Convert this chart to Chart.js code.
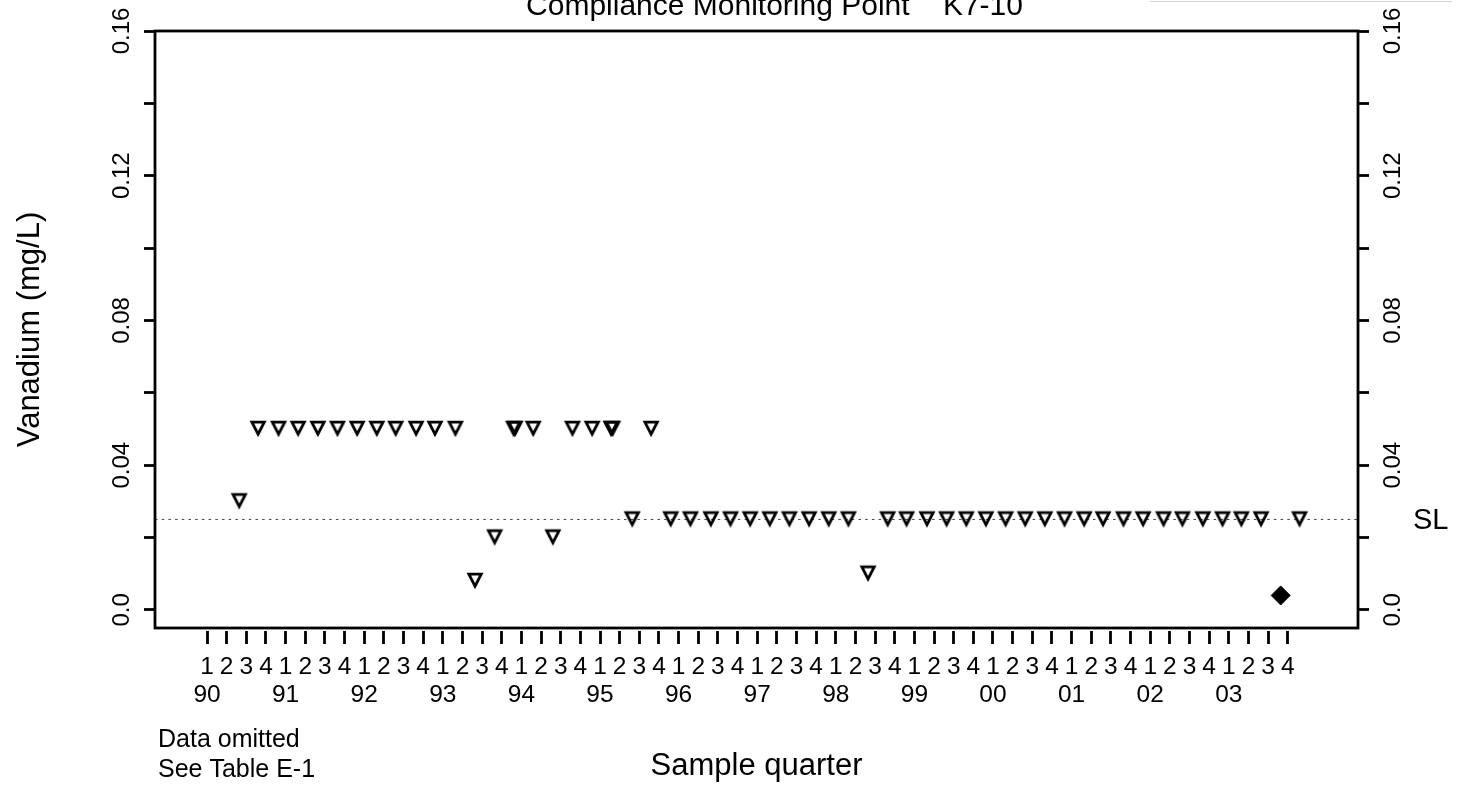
<!DOCTYPE html>
<html>
<head>
<meta charset="utf-8">
<title>Vanadium — K7-10</title>
<script src="https://cdn.jsdelivr.net/npm/chart.js@4.4.1/dist/chart.umd.min.js"></script>
<style>
  html, body { margin: 0; padding: 0; background: #fff; }
  canvas { display: block; }
</style>
</head>
<body>
<canvas id="chart" width="1465" height="786" style="width:1465px;height:786px"></canvas>
<script>
// ---- Axis labels ----
const firstYear = 1990;
const yearLabels = ['90', '91', '92', '93', '94', '95', '96', '97', '98', '99', '00', '01', '02', '03'];
const quarterLabels = ['1', '2', '3', '4'];
const yTickValues = [0, 0.02, 0.04, 0.06, 0.08, 0.10, 0.12, 0.14, 0.16];
const yTickLabels = ['0.0', '', '0.04', '', '0.08', '', '0.12', '', '0.16'];

// ---- Results (mg/L) by sample date in decimal years ----
// Non-detects, plotted at the reporting limit
const nonDetectDates = [
  1990.41, 1990.65, 1990.91, 1991.16, 1991.41, 1991.66, 1991.91, 1992.16, 1992.40, 1992.66,
  1992.90, 1993.16, 1993.41, 1993.66, 1993.90, 1993.92, 1994.15, 1994.40, 1994.65, 1994.90,
  1995.14, 1995.16, 1995.41, 1995.65, 1995.90, 1996.15, 1996.41, 1996.66, 1996.91, 1997.16,
  1997.41, 1997.66, 1997.91, 1998.16, 1998.41, 1998.66, 1998.90, 1999.16, 1999.41, 1999.66,
  1999.91, 2000.16, 2000.41, 2000.66, 2000.91, 2001.16, 2001.40, 2001.66, 2001.91, 2002.17,
  2002.41, 2002.67, 2002.92, 2003.16, 2003.41, 2003.90
];
const nonDetectValues = [
  0.03, 0.05, 0.05, 0.05, 0.05, 0.05, 0.05, 0.05, 0.05, 0.05,
  0.05, 0.05, 0.008, 0.02, 0.05, 0.05, 0.05, 0.02, 0.05, 0.05,
  0.05, 0.05, 0.025, 0.05, 0.025, 0.025, 0.025, 0.025, 0.025, 0.025,
  0.025, 0.025, 0.025, 0.025, 0.01, 0.025, 0.025, 0.025, 0.025, 0.025,
  0.025, 0.025, 0.025, 0.025, 0.025, 0.025, 0.025, 0.025, 0.025, 0.025,
  0.025, 0.025, 0.025, 0.025, 0.025, 0.025
];
// Detected results
const detectDates = [2003.66];
const detectValues = [0.004];
// Screening level
const screeningLevel = 0.025;

const chartTitle = 'Compliance Monitoring Point    K7-10';
const notes = ['Data omitted', 'See Table E-1'];

// ---- Derived tick tables ----
const xTickValues = [];
const xTickLabels = [];
yearLabels.forEach((yr, i) => {
  quarterLabels.forEach((q, j) => {
    xTickValues.push(firstYear + i + j / 4);
    xTickLabels.push(j === 0 ? [q, yr] : q);
  });
});

const X_MIN = 1989.3384, X_MAX = 2004.6438;
const Y_MIN = -0.005, Y_MAX = 0.16;
const FONT = '"Liberation Sans", Arial, Helvetica, sans-serif';

Chart.defaults.font.family = FONT;
Chart.defaults.color = '#000';

const toPoints = (xs, ys) => xs.map((x, i) => ({ x, y: ys[i] }));

// Open down-pointing triangle marker with a heavy outline (about 17 x 16 px overall)
function makeDownTriangle() {
  const c = document.createElement('canvas');
  c.width = 20; c.height = 20;
  const g = c.getContext('2d');
  const cx = 10, top = 3.175, halfW = 6.2, h = 12;
  g.strokeStyle = '#000';
  g.lineWidth = 2.8;
  g.lineJoin = 'miter';
  g.miterLimit = 10;
  g.beginPath();
  g.moveTo(cx - halfW, top);
  g.lineTo(cx + halfW, top);
  g.lineTo(cx, top + h);
  g.closePath();
  g.stroke();
  return c;
}
const downTriangle = makeDownTriangle();

// Frame around the plot region, plus the free-standing text
const decorations = {
  id: 'decorations',
  afterDatasetsDraw(chart) {
    const { ctx, chartArea: a } = chart;
    ctx.save();
    ctx.strokeStyle = '#000';
    ctx.lineWidth = 2.8;
    ctx.strokeRect(a.left, a.top, a.right - a.left, a.bottom - a.top);
    ctx.restore();
  },
  afterDraw(chart) {
    const { ctx, chartArea: a, scales } = chart;
    ctx.save();
    ctx.fillStyle = '#000';
    // title
    ctx.font = '30px ' + FONT;
    ctx.textAlign = 'center';
    ctx.textBaseline = 'alphabetic';
    ctx.fillText(chartTitle, (a.left + a.right) / 2 + 18, 15);
    // SL label beside the right axis
    ctx.font = '29px ' + FONT;
    ctx.textAlign = 'left';
    ctx.textBaseline = 'middle';
    ctx.fillText('SL', 1413, scales.y.getPixelForValue(screeningLevel) + 2);
    // notes under the axis
    ctx.font = '25px ' + FONT;
    ctx.textBaseline = 'middle';
    ctx.fillText(notes[0], 158, 740);
    ctx.fillText(notes[1], 158, 770);
    // faint rule at the top right
    ctx.strokeStyle = '#d4d4d4';
    ctx.lineWidth = 1;
    ctx.beginPath();
    ctx.moveTo(1150, 1.5);
    ctx.lineTo(1452, 1.5);
    ctx.stroke();
    ctx.restore();
  }
};

const yAxis = (position, width, pad, withTitle) => ({
  type: 'linear',
  position,
  min: Y_MIN,
  max: Y_MAX,
  border: { display: false },
  grid: { drawOnChartArea: false, drawTicks: true, tickLength: 11, tickWidth: 2.8, tickColor: '#000' },
  ticks: {
    minRotation: 90, maxRotation: 90, crossAlign: 'center', padding: pad,
    font: { size: 24 }, color: '#000',
    callback: (v, i) => yTickLabels[i]
  },
  afterBuildTicks: s => { s.ticks = yTickValues.map(v => ({ value: v })); },
  afterFit: s => { s.width = width; },
  title: withTitle
    ? { display: true, text: 'Vanadium (mg/L)', font: { size: 31 }, color: '#000', padding: { top: 12, bottom: 0 } }
    : { display: false }
});

new Chart(document.getElementById('chart'), {
  type: 'scatter',
  data: {
    datasets: [
      {
        label: 'Detected',
        data: toPoints(detectDates, detectValues),
        pointStyle: 'rectRot',
        pointRadius: 9.5,
        backgroundColor: '#000',
        borderColor: '#000',
        borderWidth: 1
      },
      {
        label: 'Not detected',
        data: toPoints(nonDetectDates, nonDetectValues),
        pointStyle: downTriangle,
        pointRadius: 9
      },
      {
        label: 'SL',
        data: [{ x: X_MIN, y: screeningLevel }, { x: X_MAX, y: screeningLevel }],
        showLine: true,
        pointRadius: 0,
        borderColor: '#444',
        borderWidth: 1,
        borderDash: [2.5, 4.2]
      }
    ]
  },
  options: {
    responsive: false,
    devicePixelRatio: 1,
    animation: false,
    events: [],
    layout: { padding: { top: 31, left: 0, right: 0, bottom: 0 } },
    plugins: { legend: { display: false }, title: { display: false }, tooltip: { enabled: false } },
    scales: {
      x: {
        type: 'linear',
        position: 'bottom',
        min: X_MIN,
        max: X_MAX,
        border: { display: false },
        grid: {
          drawOnChartArea: false, drawTicks: true, tickLength: 16, tickWidth: 2.8,
          tickColor: '#000', tickBorderDash: [0, 3, 13, 40]
        },
        ticks: {
          autoSkip: false, minRotation: 0, maxRotation: 0, padding: 9,
          font: { size: 24.5, lineHeight: 1.15 }, color: '#000',
          callback: (v, i) => xTickLabels[i]
        },
        afterBuildTicks: s => { s.ticks = xTickValues.map(v => ({ value: v })); },
        afterFit: s => { s.height = 158; },
        title: { display: true, text: 'Sample quarter', font: { size: 31 }, color: '#000', padding: { top: 0, bottom: 1 } }
      },
      y: yAxis('left', 155, -1.4, true),
      y2: yAxis('right', 107, 0.6, false)
    }
  },
  plugins: [decorations]
});
</script>
</body>
</html>
